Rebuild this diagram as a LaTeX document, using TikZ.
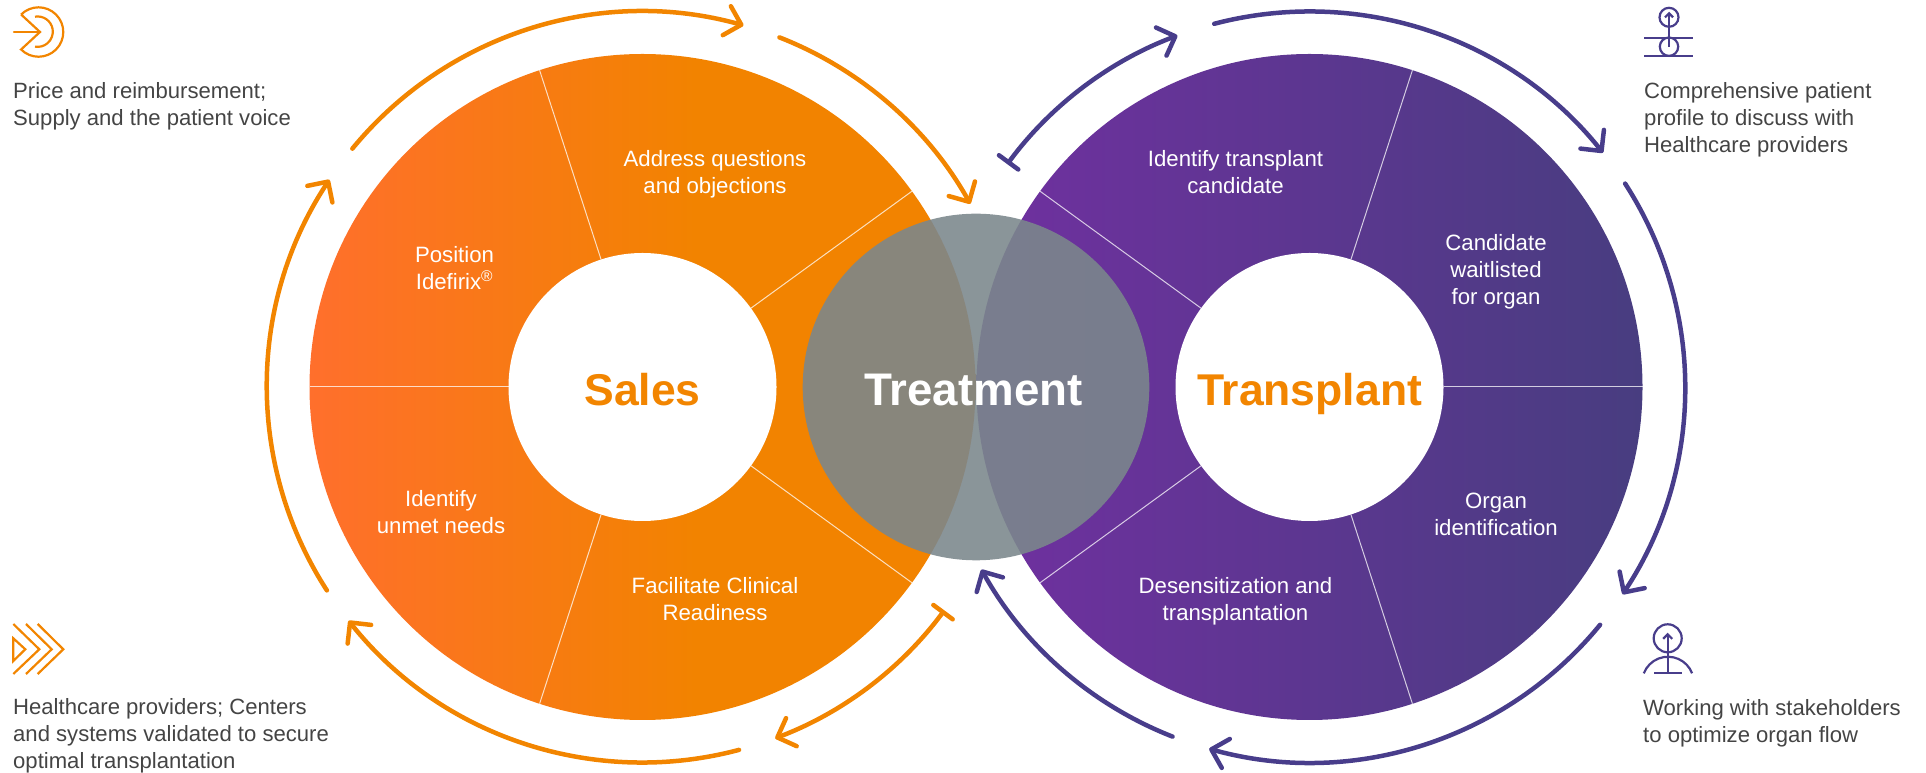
\documentclass[tikz,border=0pt]{standalone}
\usepackage{fontspec}
\setmainfont{Liberation Sans}
\usetikzlibrary{arrows.meta}
\definecolor{arcO}{HTML}{F28500}
\definecolor{arcP}{HTML}{483D8B}
\definecolor{txt}{HTML}{444444}
\definecolor{tm}{RGB}{123,135,140}
\definecolor{oa}{HTML}{FF6F2C}
\definecolor{ob}{HTML}{F28300}
\definecolor{pa}{HTML}{7030A0}
\definecolor{pb}{HTML}{483D80}
\pgfdeclarehorizontalshading{orangefade}{100bp}{color(0bp)=(oa); color(25bp)=(oa); color(54bp)=(ob); color(100bp)=(ob)}
\pgfdeclarehorizontalshading{purplefade}{100bp}{color(0bp)=(pa); color(25bp)=(pa); color(75bp)=(pb); color(100bp)=(pb)}
\tikzset{
  x=1bp,y=1bp,
  body/.style={font=\fontsize{22.2bp}{27bp}\selectfont,align=center,text=white,inner sep=0pt},
  side/.style={font=\fontsize{22.1bp}{27bp}\selectfont,align=left,text=txt,inner sep=0pt,anchor=west},
  hubtext/.style={inner sep=0pt,anchor=base},
  hub/.style={circle,fill=white,minimum size=268bp,inner sep=0pt},
  divider/.style={white,line width=1bp,opacity=.75},
  loopO/.style={arcO,line width=4.5bp,line cap=round},
  loopP/.style={arcP,line width=4.5bp,line cap=round},
  head/.style={-{Straight Barb[length=15bp,width=30bp,line width=4.5bp,round]}},
  barhead/.style={{Bar[width=24bp,line width=4.5bp,round]}-{Straight Barb[length=15bp,width=30bp,line width=4.5bp,round]}},
  iconO/.style={arcO,line width=2.2bp,line join=miter},
  iconP/.style={arcP,line width=2.2bp},
}
\begin{document}
\begin{tikzpicture}
\useasboundingbox (0,0) rectangle (1926,773);
\coordinate (L) at (642.5,386);
\coordinate (R) at (1309.5,386);
% discs
\path[shading=orangefade] (L) circle[radius=333];
\path[shading=purplefade] (R) circle[radius=333];
% dividers
\foreach \a in {180,108,36,-36,-108}
  \draw[divider] (L) ++(\a:134) -- ++(\a:199);
\foreach \a in {0,72,144,216,288}
  \draw[divider] (R) ++(\a:134) -- ++(\a:199);
% hubs
\node[hub] (saleshub) at (L) {};
\node[hub] (transhub) at (R) {};
\node[circle,fill=tm,fill opacity=.885,minimum size=346.6bp,inner sep=0pt] (treat) at (976,386) {};
\node[hubtext,text=arcO,font=\fontsize{44.5bp}{50bp}\selectfont\bfseries] (sales) at (642.5,367) {Sales};
\node[hubtext,text=arcO,font=\fontsize{44.5bp}{50bp}\selectfont\bfseries] (transplant) at (1309.5,367) {Transplant};
\node[hubtext,text=white,font=\fontsize{45.7bp}{50bp}\selectfont\bfseries] (treatment) at (973.5,367) {Treatment};
% sector labels
\node[body] (s1) at (715,599) {Address questions\\and objections};
\node[body] (s2) at (454.5,505) {Position\\Idefirix\textsuperscript{®}};
\node[body] (s3) at (441,261) {Identify\\unmet needs};
\node[body] (s4) at (715,174) {Facilitate Clinical\\Readiness};
\node[body] (t1) at (1235.5,601) {Identify transplant\\candidate};
\node[body] (t2) at (1496,501) {Candidate\\waitlisted\\for organ};
\node[body] (t3) at (1496,259) {Organ\\identification};
\node[body] (t4) at (1235.5,172) {Desensitization and\\transplantation};
% loop arrows, left
\draw[loopO,head] (L) ++(212.8:375.5) arc[start angle=212.8,end angle=146.5,radius=375.5];
\draw[loopO,head] (L) ++(140.6:375.5) arc[start angle=140.6,end angle=74.4,radius=375.5];
\draw[loopO,head] (L) ++(68.6:375.5) arc[start angle=68.6,end angle=29.2,radius=375.5];
\draw[loopO,barhead] (L) ++(-36.5:375.5) arc[start angle=-36.5,end angle=-69.3,radius=375.5];
\draw[loopO,head] (L) ++(-75.1:375.5) arc[start angle=-75.1,end angle=-141.5,radius=375.5];
% loop arrows, right
\draw[loopP,barhead] (R) ++(143.6:375.5) arc[start angle=143.6,end angle=110.6,radius=375.5];
\draw[loopP,head] (R) ++(104.7:375.5) arc[start angle=104.7,end angle=38.6,radius=375.5];
\draw[loopP,head] (R) ++(32.8:375.5) arc[start angle=32.8,end angle=-33.5,radius=375.5];
\draw[loopP,head] (R) ++(-39.3:375.5) arc[start angle=-39.3,end angle=-105.5,radius=375.5];
\draw[loopP,head] (R) ++(248.6:375.5) arc[start angle=248.6,end angle=209.1,radius=375.5];
% side texts
\node[side] (n1) at (13,667) {Price and reimbursement;\\Supply and the patient voice};
\node[side] (n2) at (13,37) {Healthcare providers; Centers\\and systems validated to secure\\optimal transplantation};
\node[side] (n3) at (1644,653.5) {Comprehensive patient\\profile to discuss with\\Healthcare providers};
\node[side] (n4) at (1643,49.5) {Working with stakeholders\\to optimize organ flow};
% icon 1
\draw[iconO,line cap=round] (14,741) -- (40,741);
\draw[iconO] (21.1,758.5) -- (40,741) -- (21.1,723.5) arc[start angle=-135,end angle=135,radius=24.7];
\draw[iconO] (35,756.3) arc[start angle=100,end angle=-100,radius=15.2];
% icon 2
\draw[iconO] (13.3,149) -- (39.3,123.7) -- (13.3,99);
\draw[iconO] (26,149) -- (51.7,123.7) -- (26,99);
\draw[iconO] (37.7,149) -- (63.3,123.7) -- (37.7,99);
\draw[iconO] (13.3,134.7) -- (25.3,123.7) -- (13.3,112) -- cycle;
% icon 3
\draw[iconP] (1669,755.7) circle[radius=9.5];
\draw[iconP] (1669,726.3) circle[radius=9.2];
\draw[iconP] (1644,735.3) -- (1693,735.3);
\draw[iconP] (1644,717) -- (1693,717);
\draw[iconP] (1669,726.3) -- (1669,759.7);
\draw[iconP] (1665,755.7) -- (1669,759.7) -- (1673,755.7);
% icon 4
\draw[iconP] (1667.7,134.7) circle[radius=14];
\draw[iconP] (1667.7,100.3) -- (1667.7,138.7);
\draw[iconP] (1663.2,134.2) -- (1667.7,138.7) -- (1672.2,134.2);
\draw[iconP] (1692.1,99.7) arc[start angle=21.2,end angle=158.8,radius=25.9];
\draw[iconP] (1654,100.3) -- (1681.7,100.3);
\end{tikzpicture}
\end{document}
